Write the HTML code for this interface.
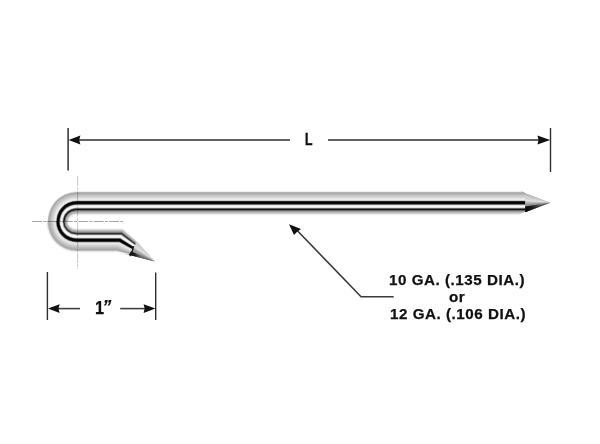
<!DOCTYPE html>
<html><head><meta charset="utf-8"><style>
html,body{margin:0;padding:0;background:#fff;}
body{width:600px;height:444px;position:relative;overflow:hidden;font-family:"Liberation Sans",sans-serif;}
svg{position:absolute;left:0;top:0;}
.t{position:absolute;filter:grayscale(1);font-weight:bold;color:#111;-webkit-text-stroke:0.25px #111;white-space:nowrap;line-height:1;transform-origin:0 0;}
</style></head><body>
<svg width="600" height="444" viewBox="0 0 600 444">
<defs>
<linearGradient id="gm" gradientUnits="userSpaceOnUse" x1="525.20" y1="202.75" x2="542.20" y2="202.75"><stop offset="0" stop-color="#000" stop-opacity="0.95"/><stop offset="0.45" stop-color="#000" stop-opacity="0.7"/><stop offset="1" stop-color="#000" stop-opacity="0"/></linearGradient>
<linearGradient id="gh" gradientUnits="userSpaceOnUse" x1="133.01" y1="248.33" x2="142.44" y2="254.00"><stop offset="0" stop-color="#000" stop-opacity="0.95"/><stop offset="0.45" stop-color="#000" stop-opacity="0.7"/><stop offset="1" stop-color="#000" stop-opacity="0"/></linearGradient>
</defs>
<g fill="none" stroke-width="0.75">
<path d="M517.70,215.00H76.80A8.01,6.35 0 0 0 68.84,222.01" stroke="#fcfcfc"/>
<path d="M518.20,214.75H76.80A8.23,6.60 0 0 0 68.62,222.04" stroke="#f8f8f8"/>
<path d="M518.70,214.50H76.80A8.44,6.85 0 0 0 68.40,222.07" stroke="#f5f5f5"/>
<path d="M519.20,214.25H76.80A8.66,7.10 0 0 0 68.19,222.09" stroke="#f2f2f2"/>
<path d="M519.70,214.00H76.80A8.88,7.35 0 0 0 67.97,222.12" stroke="#eaeaea"/>
<path d="M520.20,213.75H76.80A9.10,7.60 0 0 0 67.75,222.14" stroke="#e3e3e3"/>
<path d="M520.70,213.50H76.80A9.31,7.85 0 0 0 67.54,222.17" stroke="#dcdcdc"/>
<path d="M521.20,213.25H76.80A9.53,8.10 0 0 0 67.32,222.20" stroke="#d4d4d4"/>
<path d="M521.70,213.00H76.80A9.75,8.35 0 0 0 67.11,222.22" stroke="#cdcdcd"/>
<path d="M522.20,212.75H76.80A9.97,8.60 0 0 0 66.89,222.25" stroke="#c6c6c6"/>
<path d="M522.70,212.50H76.80A10.18,8.85 0 0 0 66.67,222.28" stroke="#c0c0c0"/>
<path d="M523.20,212.25H76.80A10.40,9.10 0 0 0 66.46,222.30" stroke="#b9b9b9"/>
<path d="M523.70,212.00H76.80A10.62,9.35 0 0 0 66.24,222.33" stroke="#b5b5b5"/>
<path d="M524.20,211.75H76.80A10.84,9.60 0 0 0 66.02,222.35" stroke="#b0b0b0"/>
<path d="M524.70,211.50H76.80A11.05,9.85 0 0 0 65.81,222.38" stroke="#acacac"/>
<path d="M525.20,211.25H76.80A11.27,10.10 0 0 0 65.59,222.41" stroke="#a8a8a8"/>
<path d="M525.20,211.00H76.80A11.49,10.35 0 0 0 65.38,222.43" stroke="#9c9c9c"/>
<path d="M525.20,210.75H76.80A11.71,10.60 0 0 0 65.16,222.46" stroke="#909090"/>
<path d="M525.20,210.50H76.80A11.92,10.85 0 0 0 64.94,222.48" stroke="#848484"/>
<path d="M525.20,210.25H76.80A12.14,11.10 0 0 0 64.73,222.51" stroke="#787878"/>
<path d="M525.20,210.00H76.80A12.36,11.35 0 0 0 64.51,222.54" stroke="#595959"/>
<path d="M525.20,209.75H76.80A12.58,11.60 0 0 0 64.29,222.56" stroke="#393939"/>
<path d="M525.20,209.50H76.80A12.79,11.85 0 0 0 64.08,222.59" stroke="#1a1a1a"/>
<path d="M525.20,209.25H76.80A13.01,12.10 0 0 0 63.86,222.61" stroke="#131313"/>
<path d="M525.20,209.00H76.80A13.23,12.35 0 0 0 63.64,222.64" stroke="#111111"/>
<path d="M525.20,208.75H76.80A13.45,12.60 0 0 0 63.43,222.67" stroke="#0f0f0f"/>
<path d="M525.20,208.50H76.80A13.66,12.85 0 0 0 63.21,222.69" stroke="#313131"/>
<path d="M525.20,208.25H76.80A13.88,13.10 0 0 0 63.00,222.72" stroke="#535353"/>
<path d="M525.20,208.00H76.80A14.10,13.35 0 0 0 62.78,222.75" stroke="#757575"/>
<path d="M525.20,207.75H76.80A14.32,13.60 0 0 0 62.56,222.77" stroke="#999999"/>
<path d="M525.20,207.50H76.80A14.53,13.85 0 0 0 62.35,222.80" stroke="#bdbdbd"/>
<path d="M525.20,207.25H76.80A14.75,14.10 0 0 0 62.13,222.82" stroke="#e1e1e1"/>
<path d="M525.20,207.00H76.80A14.97,14.35 0 0 0 61.91,222.85" stroke="#eaeaea"/>
<path d="M525.20,206.75H76.80A15.19,14.60 0 0 0 61.70,222.88" stroke="#f4f4f4"/>
<path d="M525.20,206.50H76.80A15.40,14.85 0 0 0 61.48,222.90" stroke="#fdfdfd"/>
<path d="M525.20,206.25H76.80A15.62,15.10 0 0 0 61.27,222.93" stroke="#fcfcfc"/>
<path d="M525.20,206.00H76.80A15.84,15.35 0 0 0 61.05,222.95" stroke="#f8f8f8"/>
<path d="M525.20,205.75H76.80A16.05,15.60 0 0 0 60.83,222.98" stroke="#f4f4f4"/>
<path d="M525.20,205.50H76.80A16.27,15.85 0 0 0 60.62,223.01" stroke="#f1f1f1"/>
<path d="M525.20,205.25H76.80A16.49,16.10 0 0 0 60.40,223.03" stroke="#e6e6e6"/>
<path d="M525.20,205.00H76.80A16.71,16.35 0 0 0 60.18,223.06" stroke="#dadada"/>
<path d="M525.20,204.75H76.80A16.93,16.60 0 0 0 59.97,223.09" stroke="#cdcdcd"/>
<path d="M525.20,204.50H76.80A17.14,16.85 0 0 0 59.75,223.11" stroke="#aeaeae"/>
<path d="M525.20,204.25H76.80A17.36,17.10 0 0 0 59.54,223.14" stroke="#828282"/>
<path d="M525.20,204.00H76.80A17.58,17.35 0 0 0 59.32,223.16" stroke="#565656"/>
<path d="M525.20,203.75H76.80A17.80,17.60 0 0 0 59.10,223.19" stroke="#303030"/>
<path d="M525.20,203.50H76.80A18.01,17.85 0 0 0 58.89,223.22" stroke="#121212"/>
<path d="M525.20,203.25H76.80A18.23,18.10 0 0 0 58.67,223.24" stroke="#000000"/>
<path d="M525.20,203.00H76.80A18.45,18.35 0 0 0 58.45,223.27" stroke="#000000"/>
<path d="M525.20,202.75H76.80A18.67,18.60 0 0 0 58.24,223.29" stroke="#000000"/>
<path d="M525.20,202.50H76.80A18.88,18.85 0 0 0 58.02,223.32" stroke="#000000"/>
<path d="M525.20,202.25H76.80A19.10,19.10 0 0 0 57.80,223.35" stroke="#000000"/>
<path d="M525.20,202.00H76.80A19.34,19.35 0 0 0 57.57,223.37" stroke="#000000"/>
<path d="M525.20,201.75H76.80A19.58,19.60 0 0 0 57.33,223.40" stroke="#000000"/>
<path d="M525.20,201.50H76.80A19.82,19.85 0 0 0 57.09,223.42" stroke="#000000"/>
<path d="M525.20,201.25H76.80A20.06,20.10 0 0 0 56.85,223.45" stroke="#0c0c0c"/>
<path d="M525.20,201.00H76.80A20.30,20.35 0 0 0 56.61,223.48" stroke="#2a2a2a"/>
<path d="M525.20,200.75H76.80A20.54,20.60 0 0 0 56.37,223.50" stroke="#565656"/>
<path d="M525.20,200.50H76.80A20.78,20.85 0 0 0 56.13,223.53" stroke="#969696"/>
<path d="M525.20,200.25H76.80A21.02,21.10 0 0 0 55.90,223.56" stroke="#d7d7d7"/>
<path d="M525.20,200.00H76.80A21.26,21.35 0 0 0 55.66,223.58" stroke="#dddddd"/>
<path d="M525.20,199.75H76.80A21.50,21.60 0 0 0 55.42,223.61" stroke="#e4e4e4"/>
<path d="M525.20,199.50H76.80A21.74,21.85 0 0 0 55.18,223.63" stroke="#eaeaea"/>
<path d="M525.20,199.25H76.80A21.98,22.10 0 0 0 54.94,223.66" stroke="#f0f0f0"/>
<path d="M525.20,199.00H76.80A22.22,22.35 0 0 0 54.70,223.69" stroke="#eeeeee"/>
<path d="M525.20,198.75H76.80A22.46,22.60 0 0 0 54.46,223.71" stroke="#ebebeb"/>
<path d="M525.20,198.50H76.80A22.70,22.85 0 0 0 54.22,223.74" stroke="#e8e8e8"/>
<path d="M525.20,198.25H76.80A22.94,23.10 0 0 0 53.99,223.76" stroke="#e6e6e6"/>
<path d="M525.20,198.00H76.80A23.18,23.35 0 0 0 53.75,223.79" stroke="#e2e2e2"/>
<path d="M525.20,197.75H76.80A23.42,23.60 0 0 0 53.51,223.82" stroke="#dfdfdf"/>
<path d="M525.20,197.50H76.80A23.66,23.85 0 0 0 53.27,223.84" stroke="#dcdcdc"/>
<path d="M525.20,197.25H76.80A23.90,24.10 0 0 0 53.03,223.87" stroke="#d8d8d8"/>
<path d="M525.20,197.00H76.80A24.14,24.35 0 0 0 52.79,223.90" stroke="#d6d6d6"/>
<path d="M525.20,196.75H76.80A24.38,24.60 0 0 0 52.55,223.92" stroke="#d3d3d3"/>
<path d="M525.20,196.50H76.80A24.62,24.85 0 0 0 52.31,223.95" stroke="#d0d0d0"/>
<path d="M525.20,196.25H76.80A24.86,25.10 0 0 0 52.08,223.97" stroke="#cecece"/>
<path d="M525.20,196.00H76.80A25.10,25.35 0 0 0 51.84,224.00" stroke="#cccccc"/>
<path d="M525.20,195.75H76.80A25.34,25.60 0 0 0 51.60,224.03" stroke="#c9c9c9"/>
<path d="M525.20,195.50H76.80A25.58,25.85 0 0 0 51.36,224.05" stroke="#c6c6c6"/>
<path d="M525.20,195.25H76.80A25.82,26.10 0 0 0 51.12,224.08" stroke="#c4c4c4"/>
<path d="M525.20,195.00H76.80A26.06,26.35 0 0 0 50.88,224.10" stroke="#c2c2c2"/>
<path d="M525.20,194.75H76.80A26.30,26.60 0 0 0 50.64,224.13" stroke="#bfbfbf"/>
<path d="M525.20,194.50H76.80A26.54,26.85 0 0 0 50.41,224.16" stroke="#bcbcbc"/>
<path d="M525.20,194.25H76.80A26.78,27.10 0 0 0 50.17,224.18" stroke="#bababa"/>
<path d="M525.20,194.00H76.80A27.02,27.35 0 0 0 49.93,224.21" stroke="#b6b6b6"/>
<path d="M525.20,193.75H76.80A27.26,27.60 0 0 0 49.69,224.23" stroke="#b2b2b2"/>
<path d="M525.20,193.50H76.80A27.50,27.85 0 0 0 49.45,224.26" stroke="#aeaeae"/>
<path d="M525.20,193.25H76.80A27.74,28.10 0 0 0 49.21,224.29" stroke="#aaaaaa"/>
<path d="M524.70,193.00H76.80A27.98,28.35 0 0 0 48.97,224.31" stroke="#a9a9a9"/>
<path d="M524.20,192.75H76.80A28.22,28.60 0 0 0 48.73,224.34" stroke="#a8a8a8"/>
<path d="M523.70,192.50H76.80A28.46,28.85 0 0 0 48.50,224.37" stroke="#a7a7a7"/>
<path d="M523.20,192.25H76.80A28.70,29.10 0 0 0 48.26,224.39" stroke="#a6a6a6"/>
<path d="M522.70,192.00H76.80A28.94,29.35 0 0 0 48.02,224.42" stroke="#b8b8b8"/>
<path d="M522.20,191.75H76.80A29.18,29.60 0 0 0 47.78,224.44" stroke="#cccccc"/>
<path d="M521.70,191.50H76.80A29.42,29.85 0 0 0 47.54,224.47" stroke="#e1e1e1"/>
<path d="M521.20,191.25H76.80A29.66,30.10 0 0 0 47.30,224.50" stroke="#f2f2f2"/>
<path d="M520.70,191.00H76.80A29.90,30.35 0 0 0 47.06,224.52" stroke="#fdfdfd"/>
<path d="M67.92,221.35A8.88,7.35 0 0 0 76.80,228.70L123.16,228.70L135.11,239.99" stroke="#fbfbfb"/>
<path d="M67.70,221.35A9.10,7.60 0 0 0 76.80,228.95L123.09,228.95L135.45,240.40" stroke="#f8f8f8"/>
<path d="M67.49,221.35A9.31,7.85 0 0 0 76.80,229.20L123.02,229.20L135.78,240.81" stroke="#f3f3f3"/>
<path d="M67.27,221.35A9.53,8.10 0 0 0 76.80,229.45L122.95,229.45L136.12,241.21" stroke="#ebebeb"/>
<path d="M67.05,221.35A9.75,8.35 0 0 0 76.80,229.70L122.88,229.70L136.46,241.62" stroke="#e2e2e2"/>
<path d="M66.83,221.35A9.97,8.60 0 0 0 76.80,229.95L122.81,229.95L136.80,242.03" stroke="#dadada"/>
<path d="M66.62,221.35A10.18,8.85 0 0 0 76.80,230.20L122.74,230.20L136.71,242.18" stroke="#d2d2d2"/>
<path d="M66.40,221.35A10.40,9.10 0 0 0 76.80,230.45L122.67,230.45L136.62,242.33" stroke="#cacaca"/>
<path d="M66.18,221.35A10.62,9.35 0 0 0 76.80,230.70L122.60,230.70L136.53,242.48" stroke="#c1c1c1"/>
<path d="M65.97,221.35A10.84,9.60 0 0 0 76.80,230.95L122.53,230.95L136.44,242.63" stroke="#b9b9b9"/>
<path d="M65.75,221.35A11.05,9.85 0 0 0 76.80,231.20L122.47,231.20L136.35,242.78" stroke="#b4b4b4"/>
<path d="M65.53,221.35A11.27,10.10 0 0 0 76.80,231.45L122.40,231.45L136.26,242.93" stroke="#afafaf"/>
<path d="M65.31,221.35A11.49,10.35 0 0 0 76.80,231.70L122.33,231.70L136.17,243.08" stroke="#aaaaaa"/>
<path d="M65.09,221.35A11.71,10.60 0 0 0 76.80,231.95L122.26,231.95L136.08,243.23" stroke="#a5a5a5"/>
<path d="M64.88,221.35A11.92,10.85 0 0 0 76.80,232.20L122.19,232.20L135.99,243.38" stroke="#9b9b9b"/>
<path d="M64.66,221.35A12.14,11.10 0 0 0 76.80,232.45L122.12,232.45L135.90,243.53" stroke="#919191"/>
<path d="M64.44,221.35A12.36,11.35 0 0 0 76.80,232.70L122.05,232.70L135.81,243.68" stroke="#878787"/>
<path d="M64.22,221.35A12.58,11.60 0 0 0 76.80,232.95L121.98,232.95L135.72,243.83" stroke="#7d7d7d"/>
<path d="M64.01,221.35A12.79,11.85 0 0 0 76.80,233.20L121.91,233.20L135.63,243.98" stroke="#5f5f5f"/>
<path d="M63.79,221.35A13.01,12.10 0 0 0 76.80,233.45L121.84,233.45L135.54,244.13" stroke="#404040"/>
<path d="M63.57,221.35A13.23,12.35 0 0 0 76.80,233.70L121.77,233.70L135.45,244.28" stroke="#282828"/>
<path d="M63.35,221.35A13.45,12.60 0 0 0 76.80,233.95L121.70,233.95L135.36,244.43" stroke="#2a2a2a"/>
<path d="M63.14,221.35A13.66,12.85 0 0 0 76.80,234.20L121.63,234.20L135.27,244.58" stroke="#2d2d2d"/>
<path d="M62.92,221.35A13.88,13.10 0 0 0 76.80,234.45L121.56,234.45L135.18,244.73" stroke="#424242"/>
<path d="M62.70,221.35A14.10,13.35 0 0 0 76.80,234.70L121.49,234.70L135.09,244.88" stroke="#5d5d5d"/>
<path d="M62.48,221.35A14.32,13.60 0 0 0 76.80,234.95L121.43,234.95L135.00,245.03" stroke="#787878"/>
<path d="M62.27,221.35A14.53,13.85 0 0 0 76.80,235.20L121.36,235.20L134.91,245.18" stroke="#989898"/>
<path d="M62.05,221.35A14.75,14.10 0 0 0 76.80,235.45L121.29,235.45L134.82,245.33" stroke="#b8b8b8"/>
<path d="M61.83,221.35A14.97,14.35 0 0 0 76.80,235.70L121.22,235.70L134.73,245.48" stroke="#d8d8d8"/>
<path d="M61.61,221.35A15.19,14.60 0 0 0 76.80,235.95L121.15,235.95L134.64,245.63" stroke="#eeeeee"/>
<path d="M61.40,221.35A15.40,14.85 0 0 0 76.80,236.20L121.08,236.20L134.55,245.78" stroke="#f4f4f4"/>
<path d="M61.18,221.35A15.62,15.10 0 0 0 76.80,236.45L121.01,236.45L134.46,245.93" stroke="#fafafa"/>
<path d="M60.74,221.35A16.05,15.60 0 0 0 76.80,236.95L120.87,236.95L134.28,246.23" stroke="#fdfdfd"/>
<path d="M60.53,221.35A16.27,15.85 0 0 0 76.80,237.20L120.80,237.20L134.19,246.38" stroke="#fcfcfc"/>
<path d="M60.31,221.35A16.49,16.10 0 0 0 76.80,237.45L120.73,237.45L134.10,246.53" stroke="#fafafa"/>
<path d="M60.09,221.35A16.71,16.35 0 0 0 76.80,237.70L120.66,237.70L134.01,246.68" stroke="#efefef"/>
<path d="M59.88,221.35A16.93,16.60 0 0 0 76.80,237.95L120.59,237.95L133.92,246.83" stroke="#e4e4e4"/>
<path d="M59.66,221.35A17.14,16.85 0 0 0 76.80,238.20L120.52,238.20L133.83,246.98" stroke="#d9d9d9"/>
<path d="M59.44,221.35A17.36,17.10 0 0 0 76.80,238.45L120.45,238.45L133.74,247.13" stroke="#b3b3b3"/>
<path d="M59.22,221.35A17.58,17.35 0 0 0 76.80,238.70L120.39,238.70L133.65,247.28" stroke="#878787"/>
<path d="M59.00,221.35A17.80,17.60 0 0 0 76.80,238.95L120.32,238.95L133.56,247.43" stroke="#5a5a5a"/>
<path d="M58.79,221.35A18.01,17.85 0 0 0 76.80,239.20L120.25,239.20L133.47,247.58" stroke="#2d2d2d"/>
<path d="M58.57,221.35A18.23,18.10 0 0 0 76.80,239.45L120.18,239.45L133.38,247.73" stroke="#000000"/>
<path d="M58.35,221.35A18.45,18.35 0 0 0 76.80,239.70L120.11,239.70L133.29,247.88" stroke="#000000"/>
<path d="M58.13,221.35A18.67,18.60 0 0 0 76.80,239.95L120.04,239.95L133.19,248.03" stroke="#000000"/>
<path d="M57.92,221.35A18.88,18.85 0 0 0 76.80,240.20L119.97,240.20L133.10,248.18" stroke="#000000"/>
<path d="M57.70,221.35A19.10,19.10 0 0 0 76.80,240.45L119.90,240.45L133.01,248.33" stroke="#000000"/>
<path d="M57.46,221.35A19.34,19.35 0 0 0 76.80,240.70L119.83,240.70L132.92,248.48" stroke="#000000"/>
<path d="M57.22,221.35A19.58,19.60 0 0 0 76.80,240.95L119.76,240.95L132.83,248.63" stroke="#000000"/>
<path d="M56.98,221.35A19.82,19.85 0 0 0 76.80,241.20L119.69,241.20L132.74,248.78" stroke="#000000"/>
<path d="M56.74,221.35A20.06,20.10 0 0 0 76.80,241.45L119.62,241.45L132.65,248.93" stroke="#000000"/>
<path d="M56.50,221.35A20.30,20.35 0 0 0 76.80,241.70L119.55,241.70L132.56,249.08" stroke="#121212"/>
<path d="M56.26,221.35A20.54,20.60 0 0 0 76.80,241.95L119.48,241.95L132.47,249.23" stroke="#303030"/>
<path d="M56.02,221.35A20.78,20.85 0 0 0 76.80,242.20L119.41,242.20L132.38,249.38" stroke="#5a5a5a"/>
<path d="M55.78,221.35A21.02,21.10 0 0 0 76.80,242.45L119.35,242.45L132.29,249.53" stroke="#8c8c8c"/>
<path d="M55.54,221.35A21.26,21.35 0 0 0 76.80,242.70L119.28,242.70L132.20,249.68" stroke="#bebebe"/>
<path d="M55.30,221.35A21.50,21.60 0 0 0 76.80,242.95L119.21,242.95L132.11,249.83" stroke="#d0d0d0"/>
<path d="M55.06,221.35A21.74,21.85 0 0 0 76.80,243.20L119.14,243.20L132.02,249.98" stroke="#dbdbdb"/>
<path d="M54.82,221.35A21.98,22.10 0 0 0 76.80,243.45L119.07,243.45L131.93,250.13" stroke="#e6e6e6"/>
<path d="M54.58,221.35A22.22,22.35 0 0 0 76.80,243.70L119.00,243.70L131.84,250.28" stroke="#ededed"/>
<path d="M54.34,221.35A22.46,22.60 0 0 0 76.80,243.95L118.93,243.95L131.75,250.43" stroke="#eaeaea"/>
<path d="M54.10,221.35A22.70,22.85 0 0 0 76.80,244.20L118.86,244.20L131.66,250.58" stroke="#e7e7e7"/>
<path d="M53.86,221.35A22.94,23.10 0 0 0 76.80,244.45L118.79,244.45L131.57,250.73" stroke="#e4e4e4"/>
<path d="M53.62,221.35A23.18,23.35 0 0 0 76.80,244.70L118.72,244.70L131.48,250.88" stroke="#e1e1e1"/>
<path d="M53.38,221.35A23.42,23.60 0 0 0 76.80,244.95L118.65,244.95L131.39,251.03" stroke="#dedede"/>
<path d="M53.14,221.35A23.66,23.85 0 0 0 76.80,245.20L118.58,245.20L131.30,251.18" stroke="#dbdbdb"/>
<path d="M52.90,221.35A23.90,24.10 0 0 0 76.80,245.45L118.51,245.45L131.21,251.33" stroke="#d8d8d8"/>
<path d="M52.66,221.35A24.14,24.35 0 0 0 76.80,245.70L118.44,245.70L131.12,251.48" stroke="#d5d5d5"/>
<path d="M52.42,221.35A24.38,24.60 0 0 0 76.80,245.95L118.37,245.95L131.03,251.63" stroke="#d2d2d2"/>
<path d="M52.18,221.35A24.62,24.85 0 0 0 76.80,246.20L118.31,246.20L130.94,251.78" stroke="#d0d0d0"/>
<path d="M51.94,221.35A24.86,25.10 0 0 0 76.80,246.45L118.24,246.45L130.85,251.93" stroke="#cdcdcd"/>
<path d="M51.70,221.35A25.10,25.35 0 0 0 76.80,246.70L118.17,246.70L130.76,252.08" stroke="#cacaca"/>
<path d="M51.46,221.35A25.34,25.60 0 0 0 76.80,246.95L118.10,246.95L130.67,252.23" stroke="#c8c8c8"/>
<path d="M51.22,221.35A25.58,25.85 0 0 0 76.80,247.20L118.03,247.20L130.58,252.38" stroke="#c5c5c5"/>
<path d="M50.98,221.35A25.82,26.10 0 0 0 76.80,247.45L117.96,247.45L130.49,252.53" stroke="#c2c2c2"/>
<path d="M50.74,221.35A26.06,26.35 0 0 0 76.80,247.70L117.89,247.70L130.40,252.68" stroke="#bebebe"/>
<path d="M50.50,221.35A26.30,26.60 0 0 0 76.80,247.95L117.82,247.95L130.31,252.83" stroke="#bbbbbb"/>
<path d="M50.26,221.35A26.54,26.85 0 0 0 76.80,248.20L117.75,248.20L130.22,252.98" stroke="#b8b8b8"/>
<path d="M50.02,221.35A26.78,27.10 0 0 0 76.80,248.45L117.68,248.45L130.13,253.13" stroke="#b6b6b6"/>
<path d="M49.78,221.35A27.02,27.35 0 0 0 76.80,248.70L117.61,248.70L130.04,253.28" stroke="#b3b3b3"/>
<path d="M49.54,221.35A27.26,27.60 0 0 0 76.80,248.95L117.54,248.95L129.95,253.43" stroke="#b0b0b0"/>
<path d="M49.30,221.35A27.50,27.85 0 0 0 76.80,249.20L117.47,249.20L129.86,253.58" stroke="#aeaeae"/>
<path d="M49.06,221.35A27.74,28.10 0 0 0 76.80,249.45L117.40,249.45L129.77,253.73" stroke="#ababab"/>
<path d="M48.82,221.35A27.98,28.35 0 0 0 76.80,249.70L117.33,249.70L129.68,253.88" stroke="#a8a8a8"/>
<path d="M48.58,221.35A28.22,28.60 0 0 0 76.80,249.95L117.27,249.95L129.59,254.03" stroke="#a6a6a6"/>
<path d="M48.34,221.35A28.46,28.85 0 0 0 76.80,250.20L117.20,250.20L129.50,254.18" stroke="#a9a9a9"/>
<path d="M48.10,221.35A28.70,29.10 0 0 0 76.80,250.45L117.13,250.45L129.41,254.33" stroke="#acacac"/>
<path d="M47.86,221.35A28.94,29.35 0 0 0 76.80,250.70L117.06,250.70L129.32,254.48" stroke="#b2b2b2"/>
<path d="M47.62,221.35A29.18,29.60 0 0 0 76.80,250.95L116.99,250.95L129.23,254.63" stroke="#bebebe"/>
<path d="M47.38,221.35A29.42,29.85 0 0 0 76.80,251.20L116.92,251.20L128.71,254.52" stroke="#cacaca"/>
<path d="M47.14,221.35A29.66,30.10 0 0 0 76.80,251.45L116.85,251.45L128.19,254.42" stroke="#d7d7d7"/>
<path d="M46.90,221.35A29.90,30.35 0 0 0 76.80,251.70L116.78,251.70L127.67,254.31" stroke="#e0e0e0"/>
<path d="M46.66,221.35A30.14,30.60 0 0 0 76.80,251.95L116.71,251.95L127.15,254.20" stroke="#eaeaea"/>
<path d="M46.42,221.35A30.38,30.85 0 0 0 76.80,252.20L116.64,252.20L126.64,254.09" stroke="#f3f3f3"/>
<path d="M46.18,221.35A30.62,31.10 0 0 0 76.80,252.45L116.57,252.45L126.12,253.99" stroke="#f8f8f8"/>
</g>
<g stroke="none">
<polygon points="525.20,193.23 525.20,193.86 550.30,202.75" fill="#999999"/>
<polygon points="525.20,193.62 525.20,194.25 550.30,202.75" fill="#a5a5a5"/>
<polygon points="525.20,194.01 525.20,194.65 550.30,202.75" fill="#b0b0b0"/>
<polygon points="525.20,194.41 525.20,195.04 550.30,202.75" fill="#b5b5b5"/>
<polygon points="525.20,194.80 525.20,195.43 550.30,202.75" fill="#bababa"/>
<polygon points="525.20,195.19 525.20,195.82 550.30,202.75" fill="#bfbfbf"/>
<polygon points="525.20,195.58 525.20,196.21 550.30,202.75" fill="#c3c3c3"/>
<polygon points="525.20,195.97 525.20,196.60 550.30,202.75" fill="#c5c5c5"/>
<polygon points="525.20,196.36 525.20,197.00 550.30,202.75" fill="#c7c7c7"/>
<polygon points="525.20,196.75 525.20,197.39 550.30,202.75" fill="#c9c9c9"/>
<polygon points="525.20,197.15 525.20,197.78 550.30,202.75" fill="#cbcbcb"/>
<polygon points="525.20,197.54 525.20,198.17 550.30,202.75" fill="#cdcdcd"/>
<polygon points="525.20,197.93 525.20,198.56 550.30,202.75" fill="#cfcfcf"/>
<polygon points="525.20,198.32 525.20,198.95 550.30,202.75" fill="#d1d1d1"/>
<polygon points="525.20,198.71 525.20,199.34 550.30,202.75" fill="#d3d3d3"/>
<polygon points="525.20,199.10 525.20,199.74 550.30,202.75" fill="#d5d5d5"/>
<polygon points="525.20,199.50 525.20,200.13 550.30,202.75" fill="#d9d9d9"/>
<polygon points="525.20,199.89 525.20,200.52 550.30,202.75" fill="#dddddd"/>
<polygon points="525.20,200.28 525.20,200.91 550.30,202.75" fill="#e0e0e0"/>
<polygon points="525.20,200.67 525.20,201.30 550.30,202.75" fill="#dbdbdb"/>
<polygon points="525.20,201.06 525.20,201.69 550.30,202.75" fill="#cfcfcf"/>
<polygon points="525.20,201.46 525.20,202.09 550.30,202.75" fill="#c3c3c3"/>
<polygon points="525.20,201.85 525.20,202.48 550.30,202.75" fill="#b7b7b7"/>
<polygon points="525.20,202.24 525.20,202.87 550.30,202.75" fill="#b0b0b0"/>
<polygon points="525.20,202.63 525.20,203.26 550.30,202.75" fill="#aaaaaa"/>
<polygon points="525.20,203.02 525.20,203.65 550.30,202.75" fill="#a4a4a4"/>
<polygon points="525.20,203.41 525.20,204.04 550.30,202.75" fill="#9e9e9e"/>
<polygon points="525.20,203.81 525.20,204.44 550.30,202.75" fill="#999999"/>
<polygon points="525.20,204.20 525.20,204.83 550.30,202.75" fill="#939393"/>
<polygon points="525.20,204.59 525.20,205.22 550.30,202.75" fill="#8e8e8e"/>
<polygon points="525.20,204.98 525.20,205.61 550.30,202.75" fill="#888888"/>
<polygon points="525.20,205.37 525.20,206.00 550.30,202.75" fill="#838383"/>
<polygon points="525.20,205.76 525.20,206.40 550.30,202.75" fill="#7d7d7d"/>
<polygon points="525.20,206.16 525.20,206.79 550.30,202.75" fill="#777777"/>
<polygon points="525.20,206.55 525.20,207.18 550.30,202.75" fill="#717171"/>
<polygon points="525.20,206.94 525.20,207.57 550.30,202.75" fill="#6b6b6b"/>
<polygon points="525.20,207.33 525.20,207.96 550.30,202.75" fill="#666666"/>
<polygon points="525.20,207.72 525.20,208.35 550.30,202.75" fill="#606060"/>
<polygon points="525.20,208.11 525.20,208.75 550.30,202.75" fill="#5c5c5c"/>
<polygon points="525.20,208.50 525.20,209.14 550.30,202.75" fill="#575757"/>
<polygon points="525.20,208.90 525.20,209.53 550.30,202.75" fill="#525252"/>
<polygon points="525.20,209.29 525.20,209.92 550.30,202.75" fill="#4d4d4d"/>
<polygon points="525.20,209.68 525.20,210.31 550.30,202.75" fill="#494949"/>
<polygon points="525.20,210.07 525.20,210.70 550.30,202.75" fill="#464646"/>
<polygon points="525.20,210.46 525.20,211.09 550.30,202.75" fill="#434343"/>
<polygon points="525.20,210.85 525.20,211.49 550.30,202.75" fill="#404040"/>
<polygon points="525.20,211.25 525.20,211.88 550.30,202.75" fill="#3d3d3d"/>
<polygon points="525.20,211.64 525.20,212.27 550.30,202.75" fill="#4a4a4a"/>
<polygon points="525.20,212.15 525.20,206.55 550.30,202.75" fill="url(#gm)"/>
<polygon points="136.99,241.71 136.70,242.19 154.96,261.52" fill="#bcbcbc"/>
<polygon points="136.83,241.98 136.54,242.46 154.96,261.52" fill="#c0c0c0"/>
<polygon points="136.66,242.26 136.38,242.73 154.96,261.52" fill="#c3c3c3"/>
<polygon points="136.50,242.53 136.21,243.00 154.96,261.52" fill="#c5c5c5"/>
<polygon points="136.34,242.80 136.05,243.28 154.96,261.52" fill="#c6c6c6"/>
<polygon points="136.18,243.07 135.89,243.55 154.96,261.52" fill="#c8c8c8"/>
<polygon points="136.01,243.34 135.73,243.82 154.96,261.52" fill="#c9c9c9"/>
<polygon points="135.85,243.61 135.56,244.09 154.96,261.52" fill="#cbcbcb"/>
<polygon points="135.69,243.88 135.40,244.36 154.96,261.52" fill="#cdcdcd"/>
<polygon points="135.52,244.16 135.24,244.63 154.96,261.52" fill="#cecece"/>
<polygon points="135.36,244.43 135.07,244.90 154.96,261.52" fill="#d0d0d0"/>
<polygon points="135.20,244.70 134.91,245.18 154.96,261.52" fill="#d2d2d2"/>
<polygon points="135.03,244.97 134.75,245.45 154.96,261.52" fill="#d4d4d4"/>
<polygon points="134.87,245.24 134.58,245.72 154.96,261.52" fill="#d5d5d5"/>
<polygon points="134.71,245.51 134.42,245.99 154.96,261.52" fill="#d8d8d8"/>
<polygon points="134.54,245.78 134.26,246.26 154.96,261.52" fill="#dbdbdb"/>
<polygon points="134.38,246.06 134.09,246.53 154.96,261.52" fill="#dedede"/>
<polygon points="134.22,246.33 133.93,246.80 154.96,261.52" fill="#e1e1e1"/>
<polygon points="134.06,246.60 133.77,247.08 154.96,261.52" fill="#dadada"/>
<polygon points="133.89,246.87 133.61,247.35 154.96,261.52" fill="#d0d0d0"/>
<polygon points="133.73,247.14 133.44,247.62 154.96,261.52" fill="#c7c7c7"/>
<polygon points="133.57,247.41 133.28,247.89 154.96,261.52" fill="#bdbdbd"/>
<polygon points="133.40,247.68 133.12,248.16 154.96,261.52" fill="#b4b4b4"/>
<polygon points="133.24,247.96 132.95,248.43 154.96,261.52" fill="#afafaf"/>
<polygon points="133.08,248.23 132.79,248.70 154.96,261.52" fill="#aaaaaa"/>
<polygon points="132.91,248.50 132.63,248.98 154.96,261.52" fill="#a6a6a6"/>
<polygon points="132.75,248.77 132.46,249.25 154.96,261.52" fill="#a1a1a1"/>
<polygon points="132.59,249.04 132.30,249.52 154.96,261.52" fill="#9c9c9c"/>
<polygon points="132.42,249.31 132.14,249.79 154.96,261.52" fill="#989898"/>
<polygon points="132.26,249.58 131.97,250.06 154.96,261.52" fill="#949494"/>
<polygon points="132.10,249.86 131.81,250.33 154.96,261.52" fill="#8f8f8f"/>
<polygon points="131.93,250.13 131.65,250.60 154.96,261.52" fill="#8b8b8b"/>
<polygon points="131.77,250.40 131.48,250.88 154.96,261.52" fill="#868686"/>
<polygon points="131.61,250.67 131.32,251.15 154.96,261.52" fill="#828282"/>
<polygon points="131.45,250.94 131.16,251.42 154.96,261.52" fill="#7d7d7d"/>
<polygon points="131.28,251.21 131.00,251.69 154.96,261.52" fill="#787878"/>
<polygon points="131.12,251.48 130.83,251.96 154.96,261.52" fill="#747474"/>
<polygon points="130.96,251.76 130.67,252.23 154.96,261.52" fill="#6f6f6f"/>
<polygon points="130.79,252.03 130.51,252.50 154.96,261.52" fill="#6a6a6a"/>
<polygon points="130.63,252.30 130.34,252.78 154.96,261.52" fill="#656565"/>
<polygon points="130.47,252.57 130.18,253.05 154.96,261.52" fill="#616161"/>
<polygon points="130.30,252.84 130.02,253.32 154.96,261.52" fill="#5d5d5d"/>
<polygon points="130.14,253.11 129.85,253.59 154.96,261.52" fill="#595959"/>
<polygon points="129.98,253.38 129.69,253.86 154.96,261.52" fill="#555555"/>
<polygon points="129.81,253.66 129.53,254.13 154.96,261.52" fill="#515151"/>
<polygon points="129.65,253.93 129.36,254.40 154.96,261.52" fill="#4d4d4d"/>
<polygon points="129.49,254.20 129.20,254.68 154.96,261.52" fill="#4a4a4a"/>
<polygon points="129.33,254.47 129.04,254.95 154.96,261.52" fill="#484848"/>
<polygon points="129.10,254.84 131.06,251.59 154.96,261.52" fill="url(#gh)"/>
</g>
<path d="M133.6,246.2Q132.8,251.5 129.8,256.2" stroke="#1a1a1a" stroke-width="1.3" fill="none"/>
<g stroke="#a6a6a6" stroke-width="1" fill="none" style="mix-blend-mode:multiply">
<path d="M32,221.5H123" stroke-dasharray="10,1.2,3,1.2"/>
<path d="M77.6,176V269" stroke-dasharray="10,1.2,3,1.2" stroke="#c2c2c2" stroke-width="0.9"/>
</g>
<g stroke="#2e2e2e" stroke-width="1.4" fill="none">
<path d="M68.1,128V170.5" stroke-width="1.5"/>
<path d="M550.5,128V172"/>
<path d="M74,140H290"/>
<path d="M328,140H544"/>
<path d="M47.4,272V320"/>
<path d="M155.7,272.5V320"/>
<path d="M54,308.6H80" stroke-width="1.6" stroke="#404040"/>
<path d="M120.2,308.6H150" stroke-width="1.6" stroke="#404040"/>

</g>
<path d="M295.5,228.8L361.1,296.7H393.7" stroke="#3a3a3a" stroke-width="1.6" fill="none"/>
<g fill="#111" stroke="none">
<polygon points="68.6,140 80.4,135.4 79.2,140 80.4,144.6"/>
<polygon points="550.2,140 537.4,135.4 538.6,140 537.4,144.6"/>
<polygon points="48.0,308.6 59.6,304.2 58.5,308.6 59.6,313"/>
<polygon points="155.4,308.6 143.6,304.2 144.7,308.6 143.6,313"/>
<polygon points="289,224.3 301,228.9 297.4,231.6 294,235"/>
</g>
</svg>
<div class="t" style="left:305px;top:131.2px;font-size:17px;transform:scaleX(0.72);-webkit-text-stroke:0.5px #111;">L</div>
<div class="t" style="left:94.9px;top:299.7px;font-size:17.5px;transform:scaleX(0.93);">1</div>
<div class="t" style="left:102.6px;top:299.4px;font-size:17.5px;font-style:italic;transform:scaleX(1.0);">&#8221;</div>
<div class="t" style="left:389.3px;top:272.6px;font-size:14.5px;letter-spacing:0.5px;transform:scaleX(1.047);">10 GA. (.135 DIA.)</div>
<div class="t" style="left:449px;top:290px;font-size:14.5px;letter-spacing:0.5px;transform:scaleX(1.047);">or</div>
<div class="t" style="left:389.5px;top:306.7px;font-size:14.5px;letter-spacing:0.5px;transform:scaleX(1.047);">12 GA. (.106 DIA.)</div>
</body></html>
